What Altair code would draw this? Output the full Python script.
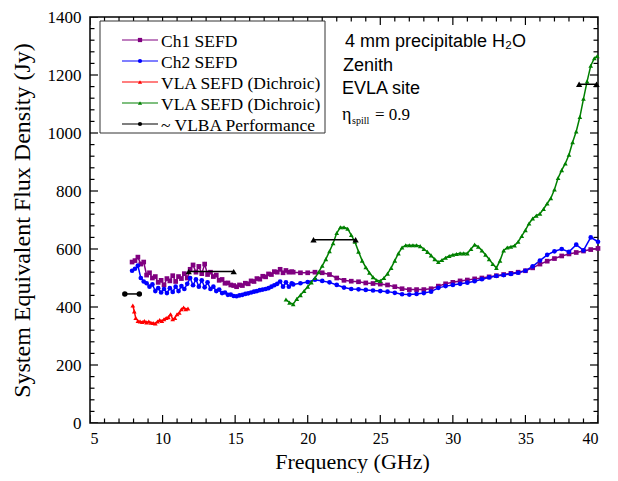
import altair as alt
import pandas as pd

SERIF = "Liberation Serif"
SANS = "Liberation Sans"

# ---------------- data ----------------
freq_fine = [round(7.9 + 0.2 * i, 1) for i in range(56)]     # 7.9 ... 18.9 GHz
freq_coarse = [round(19.0 + 0.5 * i, 1) for i in range(43)]  # 19.0 ... 40.0 GHz

ch1_fine = [555, 560, 572, 548, 555, 510, 518, 500, 505, 485,
            492, 476, 498, 490, 508, 488, 505, 498, 515, 500,
            530, 545, 520, 540, 515, 548, 512, 520, 505, 510,
            492, 495, 482, 483, 476, 474, 470, 476, 474, 482,
            480, 490, 488, 498, 496, 506, 504, 514, 512, 522,
            520, 530, 518, 526, 520, 522]
ch1_coarse = [520, 518, 518, 520, 518, 512, 500, 492, 489, 487,
              483, 481, 479, 476, 470, 463, 460, 460, 460, 463,
              472, 480, 485, 490, 493, 497, 500, 504, 508, 512,
              516, 520, 525, 535, 548, 558, 567, 576, 583, 588,
              593, 598, 602]

ch2_fine = [525, 532, 543, 500, 488, 482, 470, 478, 455, 465,
            450, 462, 448, 465, 452, 470, 455, 472, 462, 480,
            500, 475, 495, 470, 492, 468, 485, 462, 470, 455,
            460, 448, 450, 442, 443, 438, 437, 440, 442, 445,
            447, 450, 453, 455, 458, 460, 462, 465, 470, 475,
            480, 488, 470, 485, 470, 482]
ch2_coarse = [478, 482, 486, 494, 490, 485, 476, 467, 462, 461,
              459, 457, 455, 453, 449, 444, 443, 445, 448, 453,
              466, 472, 476, 480, 484, 489, 496, 502, 507, 510,
              514, 518, 525, 540, 560, 580, 592, 600, 590, 615,
              595, 640, 625]

vla_red_freq = [7.95, 8.05, 8.15, 8.3, 8.45, 8.6, 8.75, 8.9, 9.05, 9.2,
                9.35, 9.5, 9.65, 9.8, 9.95, 10.1, 10.25, 10.4, 10.55, 10.7,
                10.85, 11.0, 11.15, 11.3, 11.45, 11.6, 11.75]
vla_red_sefd = [405, 385, 362, 352, 350, 348, 352, 347, 350, 346,
                345, 343, 350, 355, 352, 358, 362, 365, 375, 358,
                362, 375, 380, 392, 398, 392, 395]

vla_green_freq = [18.5 + 0.25 * i for i in range(86)] + [39.95]
vla_green_sefd = [426, 415, 410, 428, 441, 455, 470, 485, 500, 520,
                  542, 565, 592, 620, 655, 675, 675, 670, 648, 625,
                  591, 560, 537, 518, 503, 492, 490, 500, 515, 535,
                  560, 585, 605, 613, 613, 613, 613, 610, 600, 590,
                  578, 565, 555, 562, 570, 576, 580, 583, 585, 585,
                  585, 600, 615, 608, 595, 580, 565, 548, 535, 560,
                  595, 605, 608, 612, 625, 645, 665, 688, 705, 715,
                  722, 738, 757, 775, 805, 845, 872, 895, 925, 968,
                  1005, 1055, 1118, 1178, 1232, 1258, 1265]

vlba_freq = [7.4, 8.4, 11.8, 14.9, 20.4, 23.3, 38.7, 39.9]
vlba_sefd = [445, 445, 522, 522, 632, 632, 1168, 1168]
vlba_segment = [1, 1, 2, 2, 3, 3, 4, 4]
vlba_marker = ["circle", "circle", "triangle", "triangle",
               "triangle", "triangle", "triangle", "triangle"]

series_keys = ["ch1", "ch2", "vla_red", "vla_green", "vlba"]
series_labels = ["Ch1 SEFD", "Ch2 SEFD", "VLA SEFD (Dichroic)",
                 "VLA SEFD (Dichroic)", "~ VLBA Performance"]
series_colors = ["#800080", "#0000FF", "#FF0000", "#008000", "#000000"]
series_shapes = ["square", "circle", "triangle-up", "triangle-up", "circle"]

x_major = [5, 10, 15, 20, 25, 30, 35, 40]
x_minor = [v for v in range(5, 41) if v % 5]
y_major = [0, 200, 400, 600, 800, 1000, 1200, 1400]
y_minor = [v for v in range(0, 1401, 40) if v % 200]

# ---------------- tables ----------------
rows = []
for f, v in zip(freq_fine + freq_coarse, ch1_fine + ch1_coarse):
    rows.append({"f": f, "v": v, "series": "ch1"})
for f, v in zip(freq_fine + freq_coarse, ch2_fine + ch2_coarse):
    rows.append({"f": f, "v": v, "series": "ch2"})
for f, v in zip(vla_red_freq, vla_red_sefd):
    rows.append({"f": f, "v": v, "series": "vla_red"})
for f, v in zip(vla_green_freq, vla_green_sefd):
    rows.append({"f": f, "v": v, "series": "vla_green"})
sefd = pd.DataFrame(rows)

vlba = pd.DataFrame({"f": vlba_freq, "v": vlba_sefd,
                     "seg": vlba_segment, "marker": vlba_marker})

legend_df = pd.DataFrame({"series": series_keys, "label": series_labels,
                          "row": list(range(len(series_keys)))})

# ---------------- scales / axes ----------------
x_scale = alt.Scale(domain=[5, 40], nice=False, zero=False)
y_scale = alt.Scale(domain=[0, 1400], nice=False)
color_scale = alt.Scale(domain=series_keys, range=series_colors)
shape_scale = alt.Scale(domain=series_keys, range=series_shapes)

x_axis = alt.Axis(values=x_major, format="d", ticks=False, tickSize=0, domain=False,
                  grid=False, title="Frequency (GHz)",
                  labelFont=SERIF, titleFont=SERIF, labelFontSize=16, titleFontSize=22)
y_axis = alt.Axis(values=y_major, format="d", ticks=False, tickSize=0, domain=False,
                  grid=False, title="System Equivalent Flux Density  (Jy)",
                  labelFont=SERIF, titleFont=SERIF, labelFontSize=17, titleFontSize=24)


def X(field):
    return alt.X(field, type="quantitative", scale=x_scale, axis=x_axis)


def Y(field):
    return alt.Y(field, type="quantitative", scale=y_scale, axis=y_axis)


# ---------------- frame ticks (inward) ----------------
def xticks(values, length, at):
    return alt.Chart(pd.DataFrame({"t": values})).mark_tick(
        orient="vertical", size=2 * length, thickness=1.2, color="black", clip=True, opacity=1
    ).encode(x=X("t"), y=alt.value(at))


def yticks(values, length, at):
    return alt.Chart(pd.DataFrame({"t": values})).mark_tick(
        orient="horizontal", size=2 * length, thickness=1.2, color="black", clip=True, opacity=1
    ).encode(y=Y("t"), x=alt.value(at))


tick_layers = [
    xticks(x_major, 8, "height"), xticks(x_minor, 4.5, "height"),
    xticks(x_major, 8, 0), xticks(x_minor, 4.5, 0),
    yticks(y_major, 8, 0), yticks(y_minor, 4.5, 0),
    yticks(y_major, 8, "width"), yticks(y_minor, 4.5, "width"),
]

# ---------------- data layers ----------------
lines = alt.Chart(sefd).mark_line(strokeWidth=1.5).encode(
    x=X("f"), y=Y("v"),
    color=alt.Color("series:N", scale=color_scale, legend=None),
)
points = alt.Chart(sefd).mark_point(filled=True, size=22, opacity=1).encode(
    x=X("f"), y=Y("v"),
    color=alt.Color("series:N", scale=color_scale, legend=None),
    shape=alt.Shape("series:N", scale=shape_scale, legend=None),
)

vlba_line = alt.Chart(vlba).mark_line(color="black", strokeWidth=1.5).encode(
    x=X("f"), y=Y("v"), detail="seg:N")
vlba_circ = alt.Chart(vlba).transform_filter("datum.marker == 'circle'").mark_point(
    shape="circle", filled=True, color="black", size=30, opacity=1).encode(x=X("f"), y=Y("v"))
vlba_tri = alt.Chart(vlba).transform_filter("datum.marker == 'triangle'").mark_point(
    shape="triangle-up", filled=True, color="black", size=40, opacity=1).encode(x=X("f"), y=Y("v"))

# ---------------- legend box ----------------
one = pd.DataFrame({"a": [0]})
legend_box = alt.Chart(one).mark_rect(fill="white", stroke="#333333", strokeWidth=1).encode(
    x=alt.value(10), x2=alt.value(235), y=alt.value(4), y2=alt.value(116))

legend_base = alt.Chart(legend_df).transform_calculate(
    ly="23 + 21 * datum.row", ty="30 + 21 * datum.row")
legend_rule = legend_base.mark_rule(strokeWidth=1.2).encode(
    x=alt.value(32), x2=alt.value(68),
    y=alt.Y("ly:Q", scale=None, axis=None),
    color=alt.Color("series:N", scale=color_scale, legend=None))
legend_pt = legend_base.mark_point(filled=True, size=18, opacity=1).encode(
    x=alt.value(50),
    y=alt.Y("ly:Q", scale=None, axis=None),
    color=alt.Color("series:N", scale=color_scale, legend=None),
    shape=alt.Shape("series:N", scale=shape_scale, legend=None))
legend_txt = legend_base.mark_text(align="left", baseline="alphabetic", font=SERIF,
                                   fontSize=17.5, color="black").encode(
    x=alt.value(71), y=alt.Y("ty:Q", scale=None, axis=None), text="label:N")

# ---------------- annotations ----------------
def note(text, x, y, font, size):
    return alt.Chart(one).mark_text(align="left", baseline="alphabetic", font=font,
                                    fontSize=size, color="black", text=text).encode(
        x=alt.value(x), y=alt.value(y))


notes = [
    note("4 mm precipitable H\u2082O", 255, 30, SANS, 18),
    note("Zenith", 253, 54, SANS, 18),
    note("EVLA site", 252, 77, SANS, 18),
    note("\u03b7", 252, 103, SERIF, 18),
    note("spill", 262, 107, SERIF, 10),
    note("= 0.9", 285, 103, SERIF, 17),
]

chart = alt.layer(
    *tick_layers, lines, points, vlba_line, vlba_circ, vlba_tri,
    legend_box, legend_rule, legend_pt, legend_txt, *notes,
).properties(
    width=508, height=406,
    autosize=alt.AutoSizeParams(type="none"),
    padding={"left": 82, "top": 9, "right": 12, "bottom": 50},
    background="white",
).configure_view(
    stroke="black", strokeWidth=1.5
).configure_axis(
    labelFont=SERIF, labelFontSize=17, labelColor="black", labelPadding=9,
    titleFont=SERIF, titleFontWeight="normal", titleColor="black",
).configure_axisX(
    labelFont=SERIF, titleFont=SERIF, labelFontSize=16, labelPadding=7, titleFontSize=22,
    titleBaseline="alphabetic", titleY=45, titleX=262,
).configure_axisY(
    labelFont=SERIF, titleFont=SERIF, labelFontSize=17, titleFontSize=24,
    titleBaseline="alphabetic", titleX=-61,
)

chart.save("out.html", embed_options={"renderer": "svg", "actions": False})
